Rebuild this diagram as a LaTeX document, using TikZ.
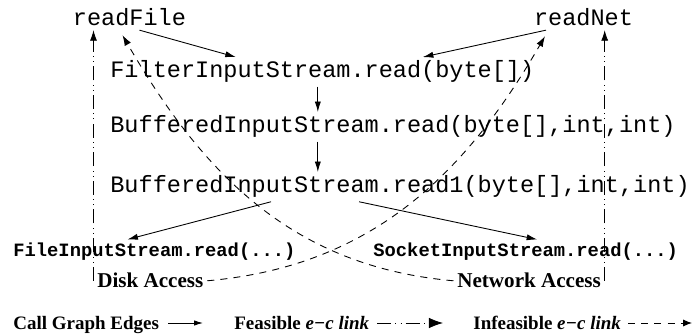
\documentclass[tikz,border=0pt]{standalone}
\usepackage{fontspec}
\setmainfont{Liberation Serif}
\setmonofont{Liberation Mono}
\usepackage{tikz}
\usetikzlibrary{arrows.meta}
\def\width{13.86}
\def\hauteur{6.70}

\begin{document}
\begin{tikzpicture}[x=1cm, y=1cm,
    every node/.style={inner sep=2pt},
    meth/.style={anchor=base west, font=\ttfamily\fontsize{13.4}{16}\selectfont},
    leaf/.style={anchor=base west, font=\ttfamily\bfseries\fontsize{10.7}{13}\selectfont},
    res/.style={anchor=base west, font=\bfseries\fontsize{12}{14}\selectfont},
    lgd/.style={anchor=base west, font=\bfseries\fontsize{10.8}{13}\selectfont},
    call/.style={-{Latex[length=6pt,width=3.5pt]}, line width=0.5pt},
    feas/.style={-{Latex[length=6pt,width=4pt]}, line width=0.5pt,
        dash pattern=on 8pt off 2.5pt on 0.4pt off 2.5pt on 0.4pt off 2.5pt},
    infeas/.style={-{Latex[length=6pt,width=4pt]}, line width=0.5pt,
        dash pattern=on 4pt off 3.5pt}]
\useasboundingbox (0,0) rectangle (\width,\hauteur);
%\draw[step=1cm, line width=0.2mm, black!30!white] (0,0) grid (\width,\hauteur);
    % entry points
    \node[meth, anchor=base] (readFile) at (2.59,6.18) {readFile};
    \node[meth, anchor=base] (readNet) at (11.67,6.18) {readNet};
    % call chain
    \node[meth] (filter) at (2.13,5.14) {FilterInputStream.read(byte[])};
    \node[meth] (bufA) at (2.13,4.04) {BufferedInputStream.read(byte[],int,int)};
    \node[meth] (bufB) at (2.13,2.84) {BufferedInputStream.read1(byte[],int,int)};
    \node[leaf] (fileIS) at (0.19,1.56) {FileInputStream.read(...)};
    \node[leaf] (sockIS) at (7.39,1.56) {SocketInputStream.read(...)};
    \node[res] (disk) at (1.87,0.94) {Disk Access};
    \node[res] (net) at (9.07,0.94) {Network Access};
    % call graph edges
    \coordinate (chain) at ([xshift=-0.09cm]filter.south);
    \draw[call] ([xshift=0.2cm]readFile.south) -- ([xshift=-1.73cm]filter.north);
    \draw[call] ([xshift=-0.75cm]readNet.south) -- ([xshift=2.01cm]filter.north);
    \draw[call] (chain) -- (chain |- bufA.north);
    \draw[call] (chain |- bufA.south) -- (chain |- bufB.north);
    \draw[call] ([xshift=-2.58cm]bufB.south) -- ([xshift=-0.54cm]fileIS.north);
    \draw[call] ([xshift=-0.82cm]bufB.south) -- ([xshift=0.23cm]sockIS.north);
    % e-c links
    \draw[feas] (disk.west) -- (disk.west |- readFile.south);
    \draw[feas] (net.east) -- (net.east |- readNet.south);
    \draw[infeas] (disk.east) to[out=5, in=240] ([xshift=-0.77cm, yshift=-0.12cm]readNet.south);
    \draw[infeas] (net.west) to[out=175, in=300] ([xshift=-0.14cm, yshift=-0.1cm]readFile.south);
    % legend
    \node[lgd] (lgCall) at (0.19,0.10) {Call Graph Edges};
    \node[lgd] (lgFeas) at (4.61,0.10) {Feasible \textit{e−c link}};
    \node[lgd] (lgInfeas) at (9.39,0.10) {Infeasible \textit{e−c link}};
    \coordinate (lgCallA) at (3.36,0.24);
    \coordinate (lgCallB) at (4.06,0.24);
    \coordinate (lgFeasA) at (7.54,0.24);
    \coordinate (lgFeasB) at (8.86,0.24);
    \coordinate (lgInfeasA) at (12.56,0.24);
    \coordinate (lgInfeasB) at (13.84,0.24);
    \draw[call, -{Latex[length=5pt,width=3pt]}] (lgCallA) -- (lgCallB);
    \draw[feas, -{Latex[length=8pt,width=6pt]}] (lgFeasA) -- (lgFeasB);
    \draw[infeas, -{Latex[length=5pt,width=4pt]}] (lgInfeasA) -- (lgInfeasB);
\end{tikzpicture}
\end{document}
